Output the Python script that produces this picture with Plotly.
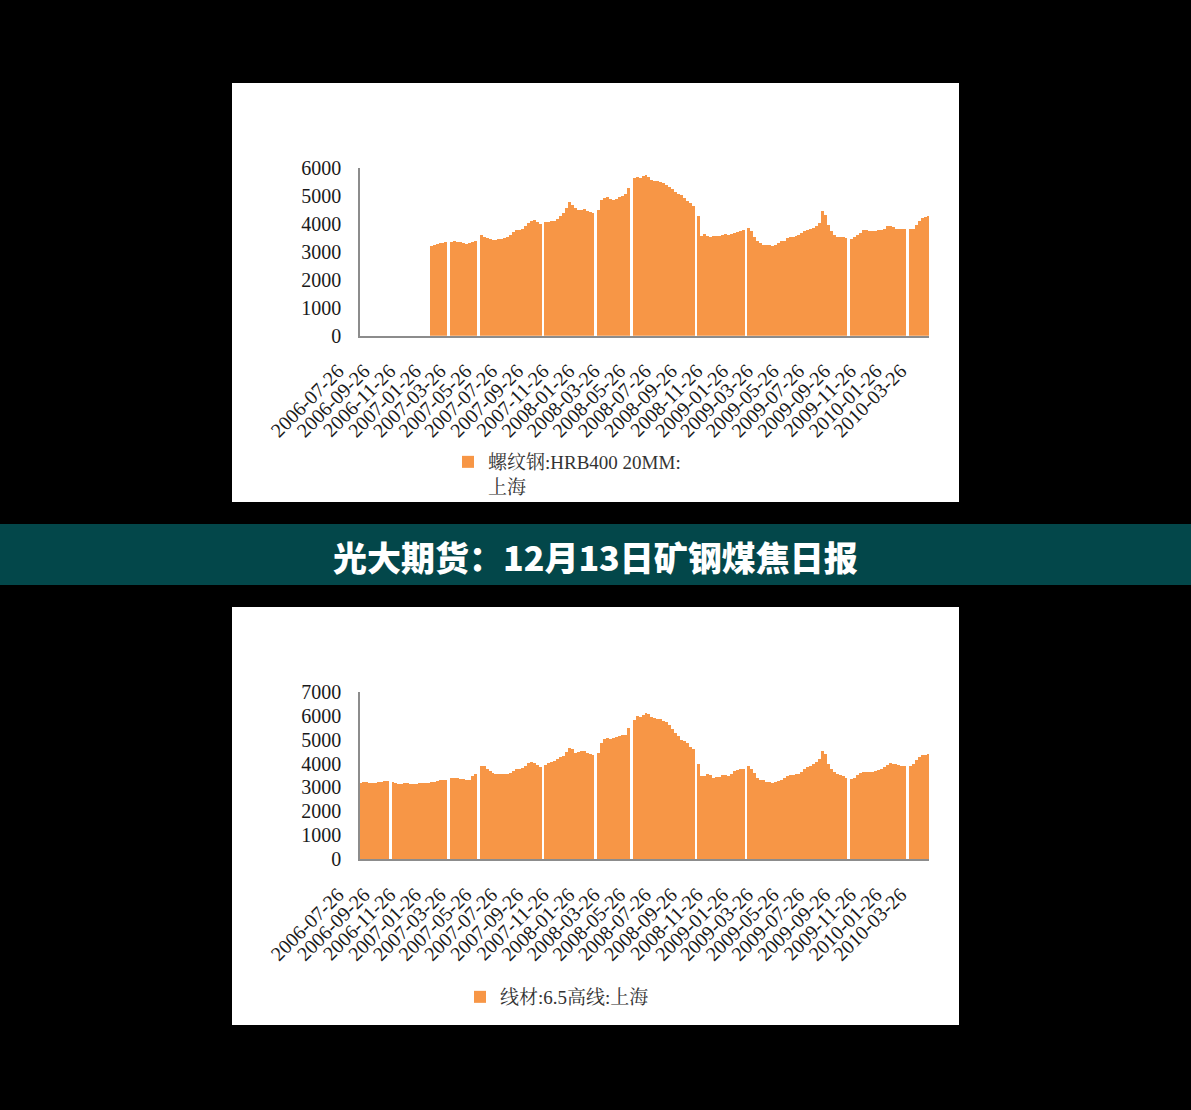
import pandas as pd
import plotly.graph_objects as go

# ---------------- data ----------------
week_start = "2006-07-24"          # Monday of first weekly bar
n_weeks = 194
x_tick_labels = [
    "2006-07-26", "2006-09-26", "2006-11-26", "2007-01-26", "2007-03-26", "2007-05-26",
    "2007-07-26", "2007-09-26", "2007-11-26", "2008-01-26", "2008-03-26", "2008-05-26",
    "2008-07-26", "2008-09-26", "2008-11-26", "2009-01-26", "2009-03-26", "2009-05-26",
    "2009-07-26", "2009-09-26", "2009-11-26", "2010-01-26", "2010-03-26",
]
rebar_name = "螺纹钢:HRB400 20MM:<br>上海"
wire_name = "线材:6.5高线:上海"

rebar_values = [None] * 24 + [
    3230, 3250, 3275, 3310, 3335, 3345, None, 3370, 3380, 3360, 3345, 3320, 3300, 3310, 3355, 3395, None,
    3600, 3550, 3490, 3455, 3430, 3430, 3450, 3465, 3500, 3525, 3610, 3730, 3775, 3780, 3810, 3930, 4030,
    4125, 4135, 4090, 4000, None,
    4060, 4085, 4100, 4110, 4170, 4300, 4410, 4565, 4770, 4685, 4565, 4505, 4505, 4530, 4480, 4435, 4410, None,
    4500, 4860, 4945, 4960, 4890, 4860, 4900, 4960, 5005, 5070, 5300, None,
    5650, 5675, 5650, 5700, 5735, 5675, 5555, 5520, 5520, 5495, 5460, 5400, 5320, 5245, 5160, 5090, 5030,
    4920, 4830, 4745, 4660, None,
    4300, 3580, 3635, 3575, 3550, 3575, 3560, 3585, 3610, 3635, 3620, 3635, 3670, 3730, 3750, 3775, None,
    3870, 3765, 3550, 3405, 3310, 3260, 3250, 3260, 3200, 3250, 3320, 3380, 3405, 3515, 3550, 3550, 3575,
    3600, 3670, 3750, 3790, 3810, 3870, 3930, 4050, 4450, 4330, 3970, 3765, 3610, 3535, 3550, 3540, 3500, None,
    3465, 3525, 3610, 3695, 3775, 3775, 3750, 3760, 3765, 3790, 3790, 3835, 3920, 3930, 3885, 3825, 3810,
    3810, 3810, None,
    3810, 3835, 3965, 4110, 4205, 4265, 4290,
]

wire_values = [
    3180, 3260, 3250, 3220, 3220, 3220, 3250, 3260, 3265, 3265, None,
    3250, 3190, 3165, 3170, 3190, 3180, 3165, 3165, 3165, 3180, 3190, 3210, 3220, 3240, 3260, 3290, 3310,
    3330, 3335, None,
    3400, 3415, 3400, 3370, 3350, 3330, 3335, 3500, 3560, None,
    3920, 3920, 3800, 3700, 3620, 3580, 3570, 3570, 3570, 3575, 3600, 3720, 3770, 3790, 3820, 3920, 4020,
    4060, 4020, 3950, 3870, None,
    3950, 4030, 4060, 4100, 4200, 4290, 4320, 4500, 4660, 4620, 4470, 4500, 4550, 4530, 4460, 4400, 4380, None,
    4450, 4870, 5055, 5060, 5055, 5070, 5120, 5150, 5190, 5220, 5500, None,
    5850, 6000, 5965, 6050, 6130, 6100, 5965, 5900, 5880, 5880, 5800, 5730, 5620, 5450, 5300, 5150, 5010,
    4950, 4850, 4720, 4600, None,
    4000, 3500, 3480, 3560, 3550, 3420, 3450, 3470, 3540, 3520, 3480, 3560, 3700, 3760, 3780, 3780, None,
    3900, 3800, 3600, 3420, 3340, 3310, 3260, 3250, 3190, 3250, 3300, 3340, 3400, 3480, 3520, 3550, 3560,
    3570, 3660, 3800, 3850, 3920, 3980, 4080, 4200, 4520, 4400, 4000, 3800, 3650, 3560, 3520, 3500, 3420, None,
    3360, 3420, 3540, 3620, 3650, 3650, 3660, 3670, 3720, 3760, 3800, 3880, 3960, 4030, 4000, 3980, 3940,
    3920, 3910, None,
    3920, 4000, 4150, 4300, 4350, 4380, 4390,
]

title_text = "光大期货：12月13日矿钢煤焦日报"

# ---------------- figure ----------------
W, H = 1191, 1110
weeks = pd.date_range(week_start, periods=n_weeks, freq="7D")
WEEK_MS = 7 * 86400000
BAR_COLOR = "#F79646"
AXIS_COLOR = "#8C8C8C"
SERIF = "Liberation Serif, Noto Serif CJK SC, Noto Sans CJK SC"
TICK_FONT = dict(family=SERIF, size=20, color="#1a1a1a")
LEG_FONT = dict(family=SERIF, size=19, color="#333333")


def px_x(p):
    return p / W


def px_y(p):
    return (H - p) / H


fig = go.Figure()
fig.add_trace(go.Bar(x=weeks, y=rebar_values, width=WEEK_MS, offset=0, name=rebar_name,
                     marker=dict(color=BAR_COLOR, line=dict(width=0)),
                     xaxis="x", yaxis="y", legend="legend", showlegend=True))
fig.add_trace(go.Bar(x=weeks, y=wire_values, width=WEEK_MS, offset=0, name=wire_name,
                     marker=dict(color=BAR_COLOR, line=dict(width=0)),
                     xaxis="x2", yaxis="y2", legend="legend2", showlegend=True))

x_range = ["2006-07-26", "2010-04-10"]
xdom = [px_x(360), px_x(929)]

common_x = dict(type="date", range=x_range, domain=xdom, showline=True, linecolor=AXIS_COLOR,
                linewidth=1.5, showgrid=False, zeroline=False, tickmode="array",
                tickvals=x_tick_labels, ticktext=x_tick_labels, tickangle=-45, tickfont=TICK_FONT,
                ticks="", ticklabelstandoff=14, ticklabelshift=-22, fixedrange=True, automargin=False)
common_y = dict(showline=True, linecolor=AXIS_COLOR, linewidth=1.5, showgrid=False, zeroline=False,
                tickfont=TICK_FONT, ticks="", ticklabelstandoff=13, tickmode="array", fixedrange=True,
                automargin=False)

fig.update_layout(
    width=W, height=H, margin=dict(l=0, r=0, t=0, b=0, pad=0, autoexpand=False),
    paper_bgcolor="black", plot_bgcolor="rgba(0,0,0,0)",
    barmode="overlay", bargap=0,
    xaxis=dict(anchor="y", **common_x),
    yaxis=dict(anchor="x", domain=[px_y(335.7), px_y(167.5)], range=[0, 6000],
               tickvals=[0, 1000, 2000, 3000, 4000, 5000, 6000], **common_y),
    xaxis2=dict(anchor="y2", **common_x),
    yaxis2=dict(anchor="x2", domain=[px_y(859.3), px_y(691.7)], range=[0, 7000],
                tickvals=[0, 1000, 2000, 3000, 4000, 5000, 6000, 7000], **common_y),
    legend=dict(x=px_x(448), y=px_y(443), xanchor="left", yanchor="top", bgcolor="rgba(0,0,0,0)",
                font=LEG_FONT, valign="top", tracegroupgap=0),
    legend2=dict(x=px_x(460), y=px_y(978), xanchor="left", yanchor="top", bgcolor="rgba(0,0,0,0)",
                 font=LEG_FONT, valign="top"),
    shapes=[
        dict(type="rect", xref="paper", yref="paper", x0=px_x(232), x1=px_x(959), y0=px_y(502), y1=px_y(83),
             fillcolor="white", line=dict(width=0), layer="below"),
        dict(type="rect", xref="paper", yref="paper", x0=px_x(232), x1=px_x(959), y0=px_y(1025), y1=px_y(607),
             fillcolor="white", line=dict(width=0), layer="below"),
        dict(type="rect", xref="paper", yref="paper", x0=0, x1=1, y0=px_y(585), y1=px_y(524),
             fillcolor="#03474A", line=dict(width=0), layer="below"),
    ],
    annotations=[
        dict(text=title_text, xref="paper", yref="paper", x=0.5, y=px_y(556), xanchor="center",
             yanchor="middle", showarrow=False,
             font=dict(family="Noto Sans CJK SC", size=34, color="white", weight=900)),
    ],
)

fig.write_html("out.html", config={"displayModeBar": False},
               post_script="document.body.style.margin='0';document.body.style.background='black';"
                           "document.documentElement.style.overflow='hidden';")
